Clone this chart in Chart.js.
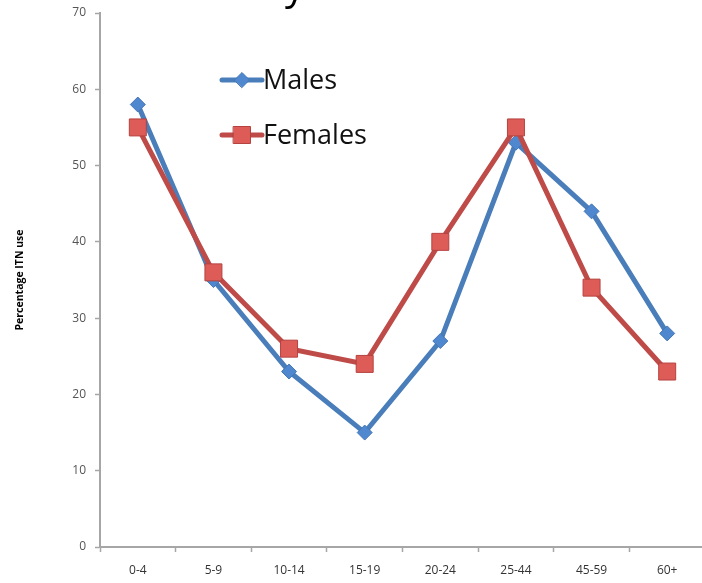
<!DOCTYPE html>
<html>
<head>
<meta charset="utf-8">
<script src="https://cdn.jsdelivr.net/npm/chart.js@4/dist/chart.umd.min.js"></script>
<style>
  html, body { margin: 0; padding: 0; background: #fff; overflow: hidden; }
  canvas { display: block; }
</style>
</head>
<body>
<canvas id="itn" width="718" height="583"></canvas>
<script>
// Age groups and ITN use (%) by sex
const ageGroups = ['0-4', '5-9', '10-14', '15-19', '20-24', '25-44', '45-59', '60+'];
const malesPct = [58, 35, 23, 15, 27, 53, 44, 28];
const femalesPct = [55, 36, 26, 24, 40, 55, 34, 23];
const yMin = 0, yMax = 70, yStep = 10;
const axisTitle = 'Percentage ITN use';
const headingText = 'by';

const BLUE_LINE = '#4a7ebb', BLUE_PT = '#5088d0', BLUE_EDGE = '#4576b5';
const RED_LINE = '#be4b48', RED_PT = '#dd5c58', RED_EDGE = '#b5423f';

// Draws the series key inside the plot, as line + marker + label
const insideLegend = {
  id: 'insideLegend',
  afterDraw(chart) {
    const ctx = chart.ctx;
    const x0 = 222, x1 = 262, firstY = 80, gap = 55;
    chart.data.datasets.forEach((ds, i) => {
      const y = firstY + i * gap;
      ctx.save();
      ctx.strokeStyle = ds.borderColor;
      ctx.lineWidth = 5;
      ctx.lineCap = 'round';
      ctx.beginPath();
      ctx.moveTo(x0, y);
      ctx.lineTo(x1, y);
      ctx.stroke();
      ctx.fillStyle = ds.pointBackgroundColor;
      ctx.strokeStyle = ds.pointBorderColor;
      ctx.lineWidth = 1;
      Chart.helpers.drawPoint(ctx, {
        pointStyle: ds.pointStyle, radius: ds.pointRadius, rotation: 0, borderWidth: 1
      }, (x0 + x1) / 2, y);
      ctx.fillStyle = '#111';
      ctx.font = '27px "Open Sans"';
      ctx.textBaseline = 'middle';
      ctx.textAlign = 'left';
      ctx.fillText(ds.label, x1 + 1, y + 1);
      ctx.restore();
    });
  }
};

// Heading text sitting at the very top edge of the canvas
const heading = {
  id: 'heading',
  afterDraw(chart) {
    const ctx = chart.ctx;
    ctx.save();
    ctx.fillStyle = '#000';
    ctx.font = '40px "Open Sans"';
    ctx.textAlign = 'right';
    ctx.textBaseline = 'alphabetic';
    ctx.fillText(headingText, 305, -1);
    ctx.restore();
  }
};

new Chart(document.getElementById('itn'), {
  type: 'line',
  data: {
    labels: ageGroups,
    datasets: [
      {
        label: 'Males',
        data: malesPct,
        borderColor: BLUE_LINE,
        borderWidth: 5,
        pointStyle: 'rectRot',
        pointRadius: 7.5,
        pointBackgroundColor: BLUE_PT,
        pointBorderColor: BLUE_EDGE,
        pointBorderWidth: 1,
        tension: 0,
        order: 1
      },
      {
        label: 'Females',
        data: femalesPct,
        borderColor: RED_LINE,
        borderWidth: 5,
        pointStyle: 'rect',
        pointRadius: 12,
        pointBackgroundColor: RED_PT,
        pointBorderColor: RED_EDGE,
        pointBorderWidth: 1,
        tension: 0,
        order: 0
      }
    ]
  },
  options: {
    responsive: false,
    animation: false,
    layout: { padding: { top: 11, right: 0, bottom: 0, left: 0 } },
    plugins: {
      legend: { display: false },
      tooltip: { enabled: false },
      title: { display: false }
    },
    scales: {
      x: {
        offset: true,
        grid: {
          display: true,
          drawOnChartArea: false,
          drawTicks: true,
          tickLength: 5,
          tickColor: '#a6a6a6',
          tickWidth: 1.5,
          offset: true
        },
        border: { color: '#a6a6a6', width: 2 },
        ticks: {
          color: '#333',
          padding: 11,
          maxRotation: 0,
          font: { family: '"Open Sans"', size: 12 }
        },
        afterFit(scale) {
          scale.height = 36;
          scale.paddingLeft = 0;
          scale.paddingRight = 0;
        }
      },
      y: {
        min: yMin,
        max: yMax,
        grid: {
          display: true,
          drawOnChartArea: false,
          drawTicks: true,
          tickLength: 5,
          tickColor: '#a6a6a6',
          tickWidth: 1.5
        },
        border: { color: '#a6a6a6', width: 2 },
        ticks: {
          stepSize: yStep,
          color: '#555',
          padding: 9,
          font: { family: '"Open Sans"', size: 12 }
        },
        title: {
          display: true,
          text: axisTitle,
          color: '#000',
          padding: { top: 14, bottom: 0 },
          font: { family: '"Open Sans"', size: 10.5, weight: 'bold' }
        },
        afterFit(scale) {
          scale.width = 100;
          scale.paddingTop = 0;
          scale.paddingBottom = 0;
        }
      }
    }
  },
  plugins: [insideLegend, heading]
});
</script>
</body>
</html>
